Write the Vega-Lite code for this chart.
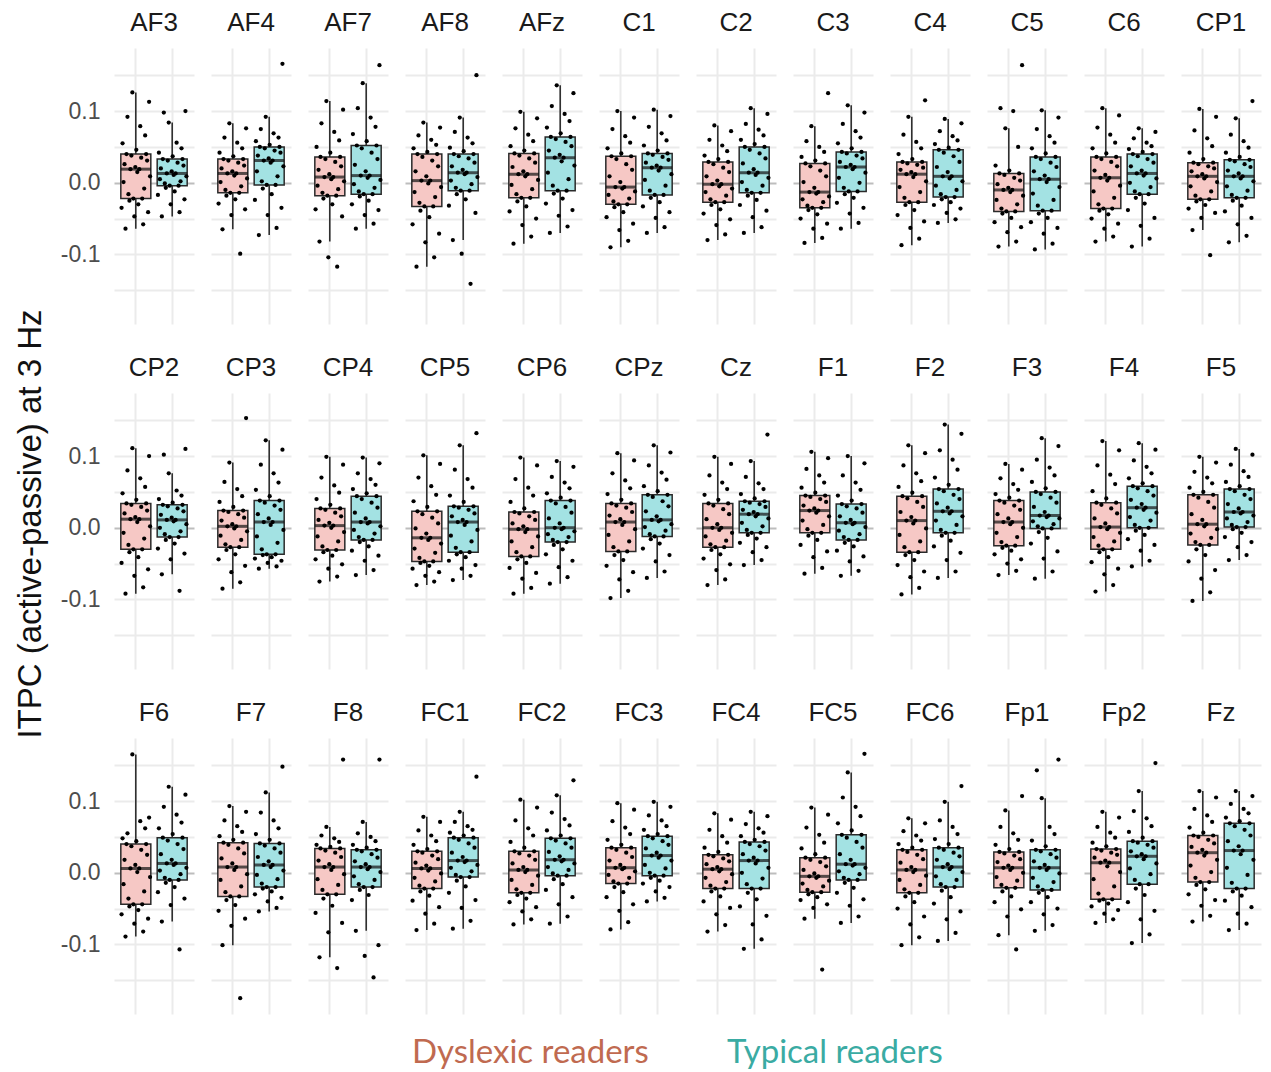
{
  "$schema": "https://vega.github.io/schema/vega-lite/v6.json",
  "background": "white",
  "padding": {"left": 15, "top": 10, "right": 5, "bottom": 4},
  "title": {"text": "ITPC (active-passive) at 3 Hz", "orient": "left", "anchor": "middle", "fontSize": 33, "font": "Liberation Sans", "fontWeight": "normal", "color": "#111111", "offset": 12, "dx": 16},
  "data": {"values": [
    {"e":"AF3","g":"Dyslexic readers","v":[-0.035,0.055,0.001,0.026,-0.064,0.04,0.092,-0.016,-0.025,0.019,0.038,0.126,-0.022,-0.047,0.022,0.046,0.015,-0.03,0.019,0.079,0.035,-0.022,-0.058,-0.008,0.066,0.04,0.031,-0.041,0.113,0.009]},
    {"e":"AF3","g":"Typical readers","v":[-0.017,0.042,0.005,0.02,-0.047,0.033,0.098,-0.001,-0.007,0.013,0.031,0.084,-0.004,-0.03,0.016,0.037,0.011,-0.012,0.013,0.056,0.028,-0.004,-0.041,0.002,0.048,0.033,0.024,-0.023,0.1,0.009]},
    {"e":"AF4","g":"Dyslexic readers","v":[-0.029,0.042,0.001,0.02,-0.065,0.033,0.063,-0.01,-0.018,0.013,0.031,0.083,-0.014,-0.045,0.016,0.037,0.01,-0.023,0.013,0.056,0.028,-0.014,-0.099,-0.005,0.048,0.033,0.024,-0.037,0.076,0.006]},
    {"e":"AF4","g":"Typical readers","v":[-0.024,0.058,0.016,0.038,-0.073,0.05,0.075,0.002,-0.008,0.031,0.048,0.092,-0.003,-0.045,0.034,0.053,0.028,-0.016,0.031,0.069,0.045,-0.003,-0.063,0.009,0.063,0.05,0.042,-0.035,0.166,0.023]},
    {"e":"AF7","g":"Dyslexic readers","v":[-0.037,0.05,-0.004,0.018,-0.082,0.036,0.083,-0.014,-0.022,0.008,0.033,0.114,-0.018,-0.104,0.012,0.042,0.005,-0.03,0.008,0.071,0.029,-0.018,-0.117,-0.009,0.059,0.036,0.023,-0.047,0.102,0.002]},
    {"e":"AF7","g":"Typical readers","v":[-0.03,0.068,-0.002,0.025,-0.064,0.052,0.104,-0.012,-0.019,0.01,0.048,0.139,-0.016,-0.045,0.016,0.058,0.007,-0.025,0.01,0.091,0.042,-0.016,-0.057,-0.007,0.078,0.052,0.033,-0.038,0.164,0.004]},
    {"e":"AF8","g":"Dyslexic readers","v":[-0.058,0.048,-0.013,0.016,-0.117,0.04,0.066,-0.028,-0.039,0.003,0.036,0.084,-0.033,-0.083,0.009,0.043,-0.001,-0.048,0.003,0.06,0.031,-0.033,-0.104,-0.02,0.053,0.04,0.023,-0.071,0.077,-0.006]},
    {"e":"AF8","g":"Typical readers","v":[-0.032,0.049,0.003,0.023,-0.08,0.04,0.071,-0.007,-0.016,0.014,0.037,0.091,-0.011,-0.099,0.018,0.044,0.012,-0.023,0.014,0.063,0.034,-0.011,-0.141,-0.002,0.055,0.04,0.028,-0.042,0.15,0.008]},
    {"e":"AFz","g":"Dyslexic readers","v":[-0.04,0.051,-0.003,0.022,-0.085,0.041,0.076,-0.016,-0.026,0.012,0.038,0.099,-0.021,-0.059,0.016,0.045,0.009,-0.033,0.012,0.067,0.034,-0.021,-0.075,-0.009,0.058,0.041,0.028,-0.05,0.09,0.004]},
    {"e":"AFz","g":"Typical readers","v":[-0.029,0.077,0.014,0.045,-0.07,0.064,0.107,-0.004,-0.015,0.035,0.061,0.136,-0.011,-0.046,0.039,0.069,0.03,-0.022,0.035,0.096,0.057,-0.011,-0.061,0.005,0.086,0.064,0.051,-0.038,0.125,0.024]},
    {"e":"C1","g":"Dyslexic readers","v":[-0.048,0.048,-0.017,0.009,-0.09,0.037,0.075,-0.026,-0.034,-0.006,0.033,0.1,-0.03,-0.066,0.001,0.041,-0.008,-0.041,-0.006,0.065,0.026,-0.03,-0.081,-0.022,0.056,0.037,0.018,-0.057,0.091,-0.012]},
    {"e":"C1","g":"Typical readers","v":[-0.033,0.052,0.004,0.028,-0.07,0.041,0.078,-0.011,-0.021,0.021,0.039,0.102,-0.017,-0.049,0.024,0.045,0.017,-0.027,0.021,0.069,0.036,-0.017,-0.062,-0.004,0.059,0.041,0.032,-0.041,0.093,0.012]},
    {"e":"C2","g":"Dyslexic readers","v":[-0.043,0.038,-0.013,0.009,-0.08,0.029,0.06,-0.023,-0.031,-0.002,0.026,0.08,-0.027,-0.059,0.003,0.033,-0.005,-0.037,-0.002,0.052,0.021,-0.027,-0.072,-0.018,0.044,0.029,0.015,-0.051,0.072,-0.008]},
    {"e":"C2","g":"Typical readers","v":[-0.031,0.06,0.001,0.027,-0.07,0.05,0.082,-0.01,-0.018,0.014,0.046,0.104,-0.014,-0.048,0.019,0.054,0.011,-0.024,0.014,0.074,0.041,-0.014,-0.062,-0.004,0.066,0.05,0.034,-0.039,0.096,0.007]},
    {"e":"C3","g":"Dyslexic readers","v":[-0.05,0.036,-0.023,0.001,-0.084,0.027,0.058,-0.032,-0.038,-0.013,0.023,0.079,-0.035,-0.064,-0.007,0.031,-0.015,-0.044,-0.013,0.05,0.017,-0.035,-0.077,-0.027,0.043,0.027,0.009,-0.057,0.125,-0.019]},
    {"e":"C3","g":"Typical readers","v":[-0.028,0.055,0.007,0.029,-0.064,0.043,0.082,-0.007,-0.016,0.022,0.041,0.108,-0.012,-0.043,0.025,0.048,0.019,-0.021,0.022,0.072,0.038,-0.012,-0.056,0,0.063,0.043,0.034,-0.035,0.098,0.014]},
    {"e":"C4","g":"Dyslexic readers","v":[-0.045,0.04,-0.006,0.018,-0.087,0.029,0.067,-0.021,-0.031,0.012,0.027,0.092,-0.027,-0.063,0.015,0.033,0.008,-0.038,0.012,0.057,0.025,-0.027,-0.078,-0.013,0.048,0.029,0.021,-0.054,0.115,0.002]},
    {"e":"C4","g":"Typical readers","v":[-0.031,0.054,-0.004,0.022,-0.056,0.046,0.072,-0.016,-0.023,0.009,0.042,0.089,-0.02,-0.042,0.015,0.049,0.006,-0.027,0.009,0.065,0.037,-0.02,-0.051,-0.01,0.059,0.046,0.029,-0.036,0.083,0.002]},
    {"e":"C5","g":"Dyslexic readers","v":[-0.055,0.024,-0.024,-0.002,-0.089,0.013,0.104,-0.036,-0.043,-0.01,0.011,0.076,-0.04,-0.069,-0.007,0.017,-0.013,-0.049,-0.01,0.1,0.007,-0.04,-0.082,-0.03,0.05,0.013,0.003,-0.062,0.164,-0.018]},
    {"e":"C5","g":"Typical readers","v":[-0.055,0.048,-0.015,0.016,-0.093,0.036,0.075,-0.032,-0.043,0.005,0.033,0.101,-0.039,-0.071,0.01,0.041,0.001,-0.049,0.005,0.065,0.028,-0.039,-0.085,-0.024,0.056,0.036,0.022,-0.063,0.091,-0.006]},
    {"e":"C6","g":"Dyslexic readers","v":[-0.05,0.048,-0.012,0.017,-0.082,0.036,0.077,-0.03,-0.039,0.007,0.033,0.104,-0.036,-0.064,0.011,0.041,0.003,-0.044,0.007,0.067,0.029,-0.036,-0.075,-0.021,0.056,0.036,0.023,-0.057,0.094,-0.004]},
    {"e":"C6","g":"Typical readers","v":[-0.038,0.047,0,0.023,-0.089,0.04,0.062,-0.012,-0.021,0.013,0.037,0.076,-0.016,-0.06,0.017,0.043,0.01,-0.029,0.013,0.056,0.033,-0.016,-0.078,-0.006,0.051,0.04,0.028,-0.049,0.071,0.006]},
    {"e":"CP1","g":"Dyslexic readers","v":[-0.036,0.042,-0.005,0.016,-0.066,0.028,0.073,-0.018,-0.026,0.009,0.026,0.103,-0.023,-0.049,0.012,0.033,0.006,-0.031,0.009,0.062,0.023,-0.023,-0.101,-0.012,0.051,0.028,0.02,-0.042,0.092,0.001]},
    {"e":"CP1","g":"Typical readers","v":[-0.04,0.042,-0.005,0.017,-0.083,0.032,0.067,-0.017,-0.025,0.009,0.03,0.09,-0.021,-0.058,0.013,0.036,0.006,-0.032,0.009,0.058,0.026,-0.021,-0.074,-0.011,0.049,0.032,0.022,-0.049,0.114,0.002]},
    {"e":"CP2","g":"Dyslexic readers","v":[-0.049,0.048,-0.007,0.02,-0.092,0.034,0.08,-0.024,-0.034,0.012,0.032,0.111,-0.03,-0.067,0.015,0.039,0.008,-0.041,0.012,0.069,0.029,-0.03,-0.083,-0.015,0.057,0.034,0.024,-0.058,0.1,0.002]},
    {"e":"CP2","g":"Typical readers","v":[-0.029,0.04,0,0.018,-0.065,0.032,0.102,-0.009,-0.017,0.011,0.03,0.076,-0.013,-0.044,0.014,0.035,0.009,-0.022,0.011,0.052,0.027,-0.013,-0.088,-0.005,0.045,0.032,0.023,-0.036,0.11,0.005]},
    {"e":"CP3","g":"Dyslexic readers","v":[-0.044,0.036,-0.011,0.01,-0.085,0.024,0.064,-0.023,-0.031,0.002,0.022,0.091,-0.027,-0.062,0.005,0.029,-0.001,-0.037,0.002,0.054,0.019,-0.027,-0.076,-0.017,0.044,0.024,0.014,-0.053,0.153,-0.005]},
    {"e":"CP3","g":"Typical readers","v":[-0.043,0.053,-0.012,0.019,-0.057,0.038,0.088,-0.03,-0.038,0.008,0.035,0.122,-0.037,-0.049,0.013,0.044,0.004,-0.041,0.008,0.076,0.031,-0.037,-0.054,-0.021,0.063,0.038,0.025,-0.046,0.109,-0.003]},
    {"e":"CP4","g":"Dyslexic readers","v":[-0.044,0.04,-0.012,0.011,-0.075,0.027,0.07,-0.026,-0.034,0.003,0.025,0.099,-0.031,-0.057,0.007,0.032,0,-0.039,0.003,0.059,0.021,-0.031,-0.068,-0.019,0.049,0.027,0.016,-0.051,0.088,-0.006]},
    {"e":"CP4","g":"Typical readers","v":[-0.032,0.054,-0.003,0.021,-0.066,0.044,0.076,-0.013,-0.02,0.008,0.04,0.098,-0.017,-0.046,0.013,0.048,0.006,-0.026,0.008,0.068,0.035,-0.017,-0.059,-0.008,0.06,0.044,0.028,-0.039,0.09,0.002]},
    {"e":"CP5","g":"Dyslexic readers","v":[-0.057,0.037,-0.029,-0.001,-0.08,0.023,0.07,-0.042,-0.049,-0.014,0.019,0.101,-0.047,-0.067,-0.008,0.029,-0.017,-0.053,-0.014,0.058,0.014,-0.047,-0.075,-0.035,0.046,0.023,0.006,-0.062,0.089,-0.022]},
    {"e":"CP5","g":"Typical readers","v":[-0.046,0.045,-0.011,0.016,-0.073,0.03,0.081,-0.028,-0.037,0.008,0.028,0.115,-0.034,-0.057,0.011,0.036,0.004,-0.041,0.008,0.068,0.025,-0.034,-0.067,-0.019,0.056,0.03,0.02,-0.052,0.132,-0.003]},
    {"e":"CP6","g":"Dyslexic readers","v":[-0.056,0.036,-0.019,0.006,-0.092,0.022,0.068,-0.034,-0.044,-0.002,0.02,0.098,-0.04,-0.071,0.002,0.027,-0.006,-0.049,-0.002,0.056,0.016,-0.04,-0.084,-0.027,0.045,0.022,0.011,-0.063,0.087,-0.012]},
    {"e":"CP6","g":"Typical readers","v":[-0.037,0.048,-0.009,0.013,-0.078,0.038,0.071,-0.017,-0.024,0,0.034,0.093,-0.02,-0.055,0.006,0.042,-0.002,-0.03,0,0.063,0.029,-0.02,-0.069,-0.013,0.055,0.038,0.021,-0.046,0.085,-0.005]},
    {"e":"CPz","g":"Dyslexic readers","v":[-0.053,0.047,-0.01,0.017,-0.098,0.034,0.076,-0.027,-0.038,0.008,0.031,0.104,-0.033,-0.072,0.012,0.039,0.004,-0.045,0.008,0.066,0.028,-0.033,-0.088,-0.019,0.055,0.034,0.022,-0.062,0.094,-0.002]},
    {"e":"CPz","g":"Typical readers","v":[-0.029,0.058,0.001,0.023,-0.07,0.046,0.087,-0.009,-0.016,0.011,0.043,0.115,-0.012,-0.047,0.016,0.051,0.009,-0.022,0.011,0.077,0.037,-0.012,-0.061,-0.004,0.067,0.046,0.03,-0.038,0.105,0.005]},
    {"e":"Cz","g":"Dyslexic readers","v":[-0.043,0.046,-0.012,0.012,-0.08,0.034,0.073,-0.023,-0.031,0,0.031,0.099,-0.027,-0.059,0.005,0.039,-0.003,-0.037,0,0.063,0.026,-0.027,-0.072,-0.018,0.054,0.034,0.019,-0.051,0.089,-0.007]},
    {"e":"Cz","g":"Typical readers","v":[-0.021,0.047,0.007,0.025,-0.052,0.037,0.071,-0.003,-0.01,0.019,0.035,0.093,-0.007,-0.034,0.022,0.041,0.016,-0.015,0.019,0.062,0.033,-0.007,-0.045,0.002,0.054,0.037,0.029,-0.027,0.13,0.013]},
    {"e":"F1","g":"Dyslexic readers","v":[-0.024,0.056,0.01,0.031,-0.064,0.045,0.082,-0.002,-0.011,0.024,0.043,0.106,-0.007,-0.041,0.027,0.049,0.021,-0.017,0.024,0.073,0.04,-0.007,-0.056,0.004,0.063,0.045,0.036,-0.033,0.097,0.016]},
    {"e":"F1","g":"Typical readers","v":[-0.032,0.045,-0.004,0.016,-0.067,0.033,0.073,-0.013,-0.021,0.007,0.03,0.1,-0.017,-0.047,0.011,0.038,0.005,-0.026,0.007,0.063,0.027,-0.017,-0.06,-0.009,0.053,0.033,0.021,-0.04,0.09,0.001]},
    {"e":"F2","g":"Dyslexic readers","v":[-0.052,0.057,-0.01,0.022,-0.093,0.044,0.087,-0.027,-0.038,0.01,0.041,0.115,-0.034,-0.069,0.015,0.049,0.006,-0.045,0.01,0.076,0.036,-0.034,-0.084,-0.019,0.065,0.044,0.029,-0.061,0.104,-0.001]},
    {"e":"F2","g":"Typical readers","v":[-0.026,0.07,0.01,0.034,-0.07,0.054,0.108,-0.003,-0.011,0.023,0.051,0.144,-0.007,-0.045,0.028,0.06,0.02,-0.018,0.023,0.095,0.046,-0.007,-0.061,0.004,0.081,0.054,0.04,-0.035,0.131,0.016]},
    {"e":"F3","g":"Dyslexic readers","v":[-0.037,0.047,-0.007,0.019,-0.066,0.038,0.069,-0.02,-0.028,0.008,0.035,0.089,-0.025,-0.05,0.013,0.042,0.005,-0.032,0.008,0.061,0.031,-0.025,-0.06,-0.013,0.053,0.038,0.025,-0.044,0.081,0]},
    {"e":"F3","g":"Typical readers","v":[-0.022,0.064,0.009,0.029,-0.071,0.05,0.095,0.002,-0.006,0.017,0.047,0.125,-0.001,-0.043,0.022,0.055,0.015,-0.014,0.017,0.084,0.042,-0.001,-0.061,0.005,0.073,0.05,0.035,-0.033,0.114,0.013]},
    {"e":"F4","g":"Dyslexic readers","v":[-0.048,0.051,-0.013,0.013,-0.089,0.035,0.087,-0.025,-0.034,0.001,0.032,0.121,-0.03,-0.065,0.006,0.041,-0.002,-0.041,0.001,0.074,0.027,-0.03,-0.08,-0.019,0.061,0.035,0.02,-0.057,0.108,-0.007]},
    {"e":"F4","g":"Typical readers","v":[-0.016,0.069,0.015,0.039,-0.054,0.058,0.094,0.004,-0.004,0.028,0.055,0.118,0,-0.032,0.033,0.062,0.025,-0.01,0.028,0.085,0.051,0,-0.046,0.01,0.076,0.058,0.045,-0.024,0.109,0.021]},
    {"e":"F5","g":"Dyslexic readers","v":[-0.047,0.056,-0.008,0.019,-0.102,0.046,0.078,-0.02,-0.03,0.005,0.042,0.099,-0.024,-0.071,0.011,0.05,0.002,-0.038,0.005,0.07,0.036,-0.024,-0.09,-0.014,0.062,0.046,0.028,-0.059,0.091,-0.002]},
    {"e":"F5","g":"Typical readers","v":[-0.013,0.064,0.013,0.033,-0.045,0.054,0.088,0.004,-0.002,0.022,0.051,0.11,0.001,-0.027,0.027,0.058,0.02,-0.007,0.022,0.079,0.046,0.001,-0.038,0.008,0.071,0.054,0.04,-0.02,0.102,0.017]},
    {"e":"F6","g":"Dyslexic readers","v":[-0.058,0.048,-0.016,0.018,-0.089,0.04,0.055,-0.036,-0.047,0.006,0.037,0.165,-0.044,-0.071,0.011,0.044,0.001,-0.052,0.006,0.072,0.032,-0.044,-0.082,-0.026,0.062,0.04,0.025,-0.064,0.077,-0.006]},
    {"e":"F6","g":"Typical readers","v":[-0.027,0.062,0.003,0.026,-0.068,0.049,0.092,-0.007,-0.014,0.013,0.045,0.12,-0.01,-0.045,0.018,0.054,0.011,-0.02,0.013,0.081,0.04,-0.01,-0.107,-0.002,0.07,0.049,0.033,-0.036,0.109,0.007]},
    {"e":"F7","g":"Dyslexic readers","v":[-0.053,0.051,-0.01,0.02,-0.101,0.042,0.073,-0.027,-0.038,0.008,0.039,0.093,-0.033,-0.074,0.013,0.046,0.004,-0.045,0.008,0.065,0.034,-0.033,-0.175,-0.019,0.057,0.042,0.027,-0.064,0.085,-0.002]},
    {"e":"F7","g":"Typical readers","v":[-0.03,0.054,-0.003,0.022,-0.054,0.041,0.084,-0.015,-0.022,0.011,0.038,0.112,-0.02,-0.04,0.016,0.046,0.008,-0.026,0.011,0.073,0.034,-0.02,-0.049,-0.009,0.062,0.041,0.028,-0.035,0.148,0.003]},
    {"e":"F8","g":"Dyslexic readers","v":[-0.056,0.039,-0.009,0.017,-0.118,0.034,0.052,-0.024,-0.036,0.008,0.031,0.064,-0.03,-0.083,0.012,0.036,0.004,-0.046,0.008,0.048,0.028,-0.03,-0.133,-0.017,0.043,0.034,0.022,-0.07,0.158,-0.002]},
    {"e":"F8","g":"Typical readers","v":[-0.038,0.039,-0.005,0.016,-0.081,0.032,0.055,-0.016,-0.024,0.008,0.03,0.071,-0.02,-0.116,0.012,0.035,0.005,-0.031,0.008,0.05,0.026,-0.02,-0.146,-0.01,0.044,0.032,0.021,-0.101,0.158,0.001]},
    {"e":"FC1","g":"Dyslexic readers","v":[-0.039,0.039,-0.007,0.014,-0.08,0.03,0.059,-0.018,-0.026,0.006,0.028,0.078,-0.022,-0.057,0.01,0.033,0.003,-0.032,0.006,0.052,0.024,-0.022,-0.071,-0.012,0.044,0.03,0.019,-0.048,0.071,-0.001]},
    {"e":"FC1","g":"Typical readers","v":[-0.028,0.056,0.007,0.028,-0.078,0.049,0.071,-0.003,-0.011,0.017,0.046,0.085,-0.006,-0.049,0.022,0.052,0.015,-0.019,0.017,0.065,0.041,-0.006,-0.067,0.002,0.06,0.049,0.035,-0.038,0.134,0.011]},
    {"e":"FC2","g":"Dyslexic readers","v":[-0.041,0.043,-0.01,0.013,-0.072,0.03,0.073,-0.023,-0.031,0.004,0.027,0.102,-0.028,-0.054,0.008,0.035,0.001,-0.036,0.004,0.062,0.024,-0.028,-0.065,-0.017,0.052,0.03,0.018,-0.048,0.091,-0.004]},
    {"e":"FC2","g":"Typical readers","v":[-0.024,0.059,0.008,0.029,-0.071,0.048,0.084,-0.001,-0.009,0.018,0.045,0.108,-0.004,-0.044,0.023,0.052,0.016,-0.016,0.018,0.075,0.041,-0.004,-0.061,0.004,0.066,0.048,0.035,-0.034,0.129,0.013]},
    {"e":"FC3","g":"Dyslexic readers","v":[-0.034,0.046,-0.003,0.017,-0.079,0.035,0.072,-0.012,-0.02,0.007,0.032,0.097,-0.015,-0.053,0.011,0.039,0.005,-0.027,0.007,0.063,0.028,-0.015,-0.069,-0.007,0.054,0.035,0.022,-0.044,0.088,0.002]},
    {"e":"FC3","g":"Typical readers","v":[-0.015,0.06,0.011,0.034,-0.04,0.051,0.08,0,-0.007,0.024,0.048,0.099,-0.004,-0.026,0.028,0.054,0.021,-0.011,0.024,0.073,0.044,-0.004,-0.035,0.006,0.065,0.051,0.039,-0.02,0.092,0.017]},
    {"e":"FC4","g":"Dyslexic readers","v":[-0.04,0.035,-0.007,0.012,-0.082,0.025,0.06,-0.018,-0.026,0.005,0.023,0.083,-0.022,-0.058,0.008,0.029,0.002,-0.033,0.005,0.051,0.02,-0.022,-0.073,-0.013,0.042,0.025,0.016,-0.049,0.074,-0.002]},
    {"e":"FC4","g":"Typical readers","v":[-0.047,0.051,0,0.026,-0.106,0.043,0.068,-0.016,-0.028,0.017,0.04,0.085,-0.022,-0.072,0.021,0.046,0.013,-0.037,0.017,0.062,0.037,-0.022,-0.093,-0.008,0.056,0.043,0.031,-0.06,0.079,0.007]},
    {"e":"FC5","g":"Dyslexic readers","v":[-0.038,0.034,-0.015,0.004,-0.064,0.021,0.063,-0.024,-0.03,-0.005,0.018,0.091,-0.027,-0.049,-0.001,0.026,-0.007,-0.034,-0.005,0.053,0.015,-0.027,-0.135,-0.019,0.042,0.021,0.009,-0.044,0.081,-0.011]},
    {"e":"FC5","g":"Typical readers","v":[-0.028,0.069,0.002,0.026,-0.07,0.053,0.105,-0.007,-0.014,0.012,0.049,0.14,-0.01,-0.046,0.018,0.059,0.01,-0.021,0.012,0.092,0.043,-0.01,-0.061,-0.002,0.079,0.053,0.035,-0.037,0.166,0.007]},
    {"e":"FC6","g":"Dyslexic readers","v":[-0.05,0.04,-0.01,0.014,-0.101,0.032,0.058,-0.023,-0.033,0.004,0.029,0.076,-0.028,-0.072,0.008,0.035,0.001,-0.041,0.004,0.052,0.025,-0.028,-0.09,-0.017,0.045,0.032,0.019,-0.061,0.069,-0.004]},
    {"e":"FC6","g":"Typical readers","v":[-0.043,0.047,-0.005,0.018,-0.095,0.035,0.073,-0.016,-0.025,0.008,0.032,0.099,-0.02,-0.065,0.012,0.04,0.005,-0.034,0.008,0.064,0.028,-0.02,-0.084,-0.01,0.054,0.035,0.023,-0.054,0.121,0.001]},
    {"e":"Fp1","g":"Dyslexic readers","v":[-0.041,0.039,-0.006,0.015,-0.087,0.029,0.064,-0.017,-0.026,0.007,0.027,0.087,-0.021,-0.061,0.01,0.033,0.004,-0.033,0.007,0.055,0.024,-0.021,-0.107,-0.011,0.046,0.029,0.019,-0.051,0.107,0]},
    {"e":"Fp1","g":"Typical readers","v":[-0.041,0.045,-0.007,0.016,-0.081,0.032,0.143,-0.019,-0.028,0.007,0.03,0.104,-0.024,-0.058,0.011,0.037,0.004,-0.034,0.007,0.064,0.026,-0.024,-0.073,-0.013,0.054,0.032,0.021,-0.05,0.158,-0.001]},
    {"e":"Fp2","g":"Dyslexic readers","v":[-0.047,0.042,-0.009,0.021,-0.07,0.033,0.064,-0.029,-0.039,0.014,0.031,0.085,-0.037,-0.057,0.017,0.037,0.009,-0.043,0.014,0.056,0.028,-0.037,-0.065,-0.019,0.049,0.033,0.025,-0.052,0.077,0.001]},
    {"e":"Fp2","g":"Typical readers","v":[-0.041,0.057,0.006,0.03,-0.098,0.044,0.086,-0.01,-0.022,0.023,0.042,0.114,-0.016,-0.065,0.026,0.049,0.019,-0.031,0.023,0.076,0.039,-0.016,-0.086,-0.002,0.065,0.044,0.035,-0.053,0.153,0.013]},
    {"e":"Fz","g":"Dyslexic readers","v":[-0.03,0.063,0.01,0.036,-0.068,0.052,0.089,-0.007,-0.017,0.028,0.05,0.114,-0.013,-0.046,0.032,0.056,0.024,-0.023,0.028,0.08,0.046,-0.013,-0.06,0.001,0.071,0.052,0.041,-0.038,0.105,0.018]},
    {"e":"Fz","g":"Typical readers","v":[-0.039,0.077,0.007,0.044,-0.08,0.069,0.096,-0.014,-0.026,0.031,0.065,0.114,-0.022,-0.057,0.037,0.072,0.026,-0.032,0.031,0.089,0.06,-0.022,-0.071,-0.003,0.083,0.069,0.052,-0.048,0.107,0.018]}
  ]},
  "transform": [
    {"flatten": ["v"]},
    {"window": [{"op": "row_number", "as": "i"}], "groupby": ["e", "g"]}
  ],
  "facet": {
    "field": "e", "type": "nominal",
    "sort": ["AF3","AF4","AF7","AF8","AFz","C1","C2","C3","C4","C5","C6","CP1","CP2","CP3","CP4","CP5","CP6","CPz","Cz","F1","F2","F3","F4","F5","F6","F7","F8","FC1","FC2","FC3","FC4","FC5","FC6","Fp1","Fp2","Fz"],
    "header": {"title": null, "labelFontSize": 26, "labelFont": "Liberation Sans", "labelColor": "#1A1A1A", "labelPadding": 12}
  },
  "columns": 12,
  "spacing": {"row": 31, "column": 17},
  "spec": {
    "width": 80,
    "height": 276,
    "layer": [
      {
        "mark": {"type": "boxplot", "extent": 1.5, "size": 30, "outliers": false, "ticks": false,
          "box": {"stroke": "#2A2A2A", "strokeWidth": 1.5},
          "median": {"color": "#111111", "thickness": 3},
          "rule": {"color": "#222222", "strokeWidth": 1.5}},
        "encoding": {
          "x": {"field": "g", "type": "nominal", "scale": {"paddingInner": 0.2, "paddingOuter": 0.2},
            "axis": {"title": null, "labels": false, "ticks": false, "domain": false, "grid": true, "gridColor": "#EBEBEB", "gridWidth": 2, "bandPosition": 0.5}},
          "y": {"field": "v", "type": "quantitative", "scale": {"domain": [-0.197, 0.188], "nice": false, "zero": false},
            "axis": {"title": null, "values": [-0.15, -0.1, -0.05, 0, 0.05, 0.1, 0.15], "domain": false, "ticks": false,
              "labelFontSize": 23, "labelFont": "Liberation Sans", "labelColor": "#4D4D4D", "labelPadding": 14,
              "labelExpr": "datum.value == 0 ? '0.0' : (abs(datum.value) > 0.07 && abs(datum.value) < 0.13 ? (datum.value > 0 ? '0.1' : '-0.1') : '')",
              "gridColor": {"condition": {"test": "datum.value == 0", "value": "#BDBDBD"}, "value": "#EBEBEB"}, "gridWidth": 2}},
          "color": {"field": "g", "type": "nominal", "scale": {"range": ["#F6C8C5", "#A3E2E3"]},
            "legend": {"orient": "bottom", "title": null, "direction": "horizontal", "labelFontSize": 33, "labelFont": "Lato", "labelLimit": 500,
              "symbolSize": 0, "symbolStrokeWidth": 0, "symbolOpacity": 0, "labelOffset": 0, "columnPadding": 45, "offset": 22,
              "encode": {"labels": {"update": {"fill": {"signal": "datum.value === 'Dyslexic readers' ? '#C06A50' : '#3AABA3'"}}}}}}
        }
      },
      {
        "mark": {"type": "point", "filled": true, "size": 18, "color": "black", "opacity": 1},
        "encoding": {
          "x": {"field": "g", "type": "nominal"},
          "xOffset": {"field": "i", "type": "ordinal", "scale": {"paddingInner": 0, "paddingOuter": 0.3}},
          "y": {"field": "v", "type": "quantitative"}
        }
      }
    ]
  },
  "config": {"view": {"stroke": null}, "font": "Liberation Sans", "legend": {"layout": {"bottom": {"anchor": "middle"}}}}
}
